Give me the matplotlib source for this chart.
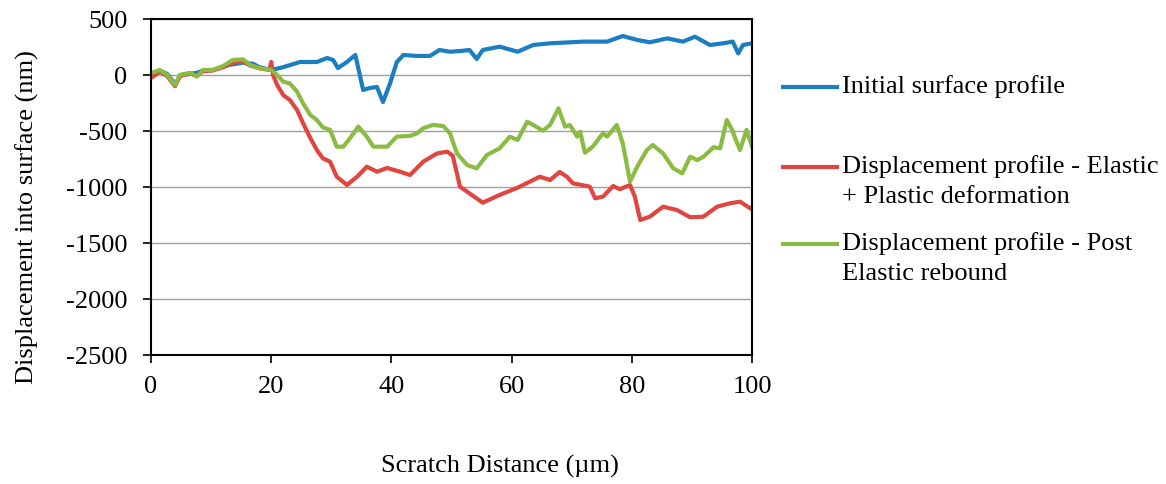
import matplotlib.pyplot as plt
from matplotlib.lines import Line2D

plt.rcParams['font.family'] = ['Liberation Serif', 'DejaVu Serif']
plt.rcParams['axes.unicode_minus'] = False

# Initial surface profile
x_init = [0, 1.5, 2.7, 4, 5, 7.7, 8.7, 10.3, 13, 15.3, 17, 18, 20, 22, 24.8, 27.6, 29.3, 30.3,
          31.1, 32.6, 34, 35.3, 36.4, 37.6, 38.6, 39.8, 40.9, 42, 44.3, 46.4, 48, 49.75, 51.4,
          53, 54.2, 55.2, 58, 61, 63.6, 66.4, 71.9, 75.9, 78.5, 80.9, 83, 85.9, 88.5, 90.5,
          93, 95.2, 96.8, 97.7, 98.5, 100]
y_init = [0, 36, 10, -80, 0, 20, 40, 45, 90, 110, 100, 70, 45, 70, 116, 116, 152, 134, 62, 116,
          179, -134, -116, -107, -241, -71, 116, 179, 170, 170, 223, 208, 214, 223, 143, 223,
          253, 208, 268, 283, 298, 298, 348, 313, 292, 327, 298, 342, 268, 283, 298, 193, 268, 283]

# Elastic + plastic
x_ep = [0, 1.5, 2.7, 4, 4.8, 6.5, 7.6, 8.7, 10.3, 12, 13.6, 15.3, 16.5, 18, 19.7, 20, 20.3, 21,
        22, 23.1, 24.3, 25.3, 26.5, 27.6, 28.6, 29.8, 30.9, 32.6, 34.3, 35.9, 37.6, 39.3, 41.4,
        43.1, 45.3, 47.6, 49.3, 50.2, 50.9, 51.4, 55.2, 58, 61, 64.7, 66.4, 68, 69.2, 70.2, 73,
        73.9, 75.2, 76.9, 78, 79.7, 80.5, 81.4, 83, 85.2, 87.5, 89.7, 91.9, 94.2, 96.3, 98, 100]
y_ep = [-27, 30, -10, -100, -10, 15, -10, 35, 40, 70, 110, 120, 85, 60, 45, 116, 0, -90, -179,
        -223, -312, -430, -562, -670, -744, -774, -908, -982, -908, -819, -863, -830, -863, -893,
        -774, -700, -685, -720, -878, -997, -1140, -1071, -1006, -908, -938, -866, -908, -967,
        -997, -1101, -1086, -991, -1020, -982, -1086, -1295, -1265, -1176, -1205, -1270, -1265,
        -1176, -1146, -1131, -1200]

# Post elastic rebound
x_pe = [0, 1.5, 2.7, 4, 4.8, 6.5, 7.6, 8.7, 10.3, 12, 13.6, 15.3, 16.5, 18, 20, 21, 22, 23.1,
        24.3, 25.3, 26.5, 27.6, 28.6, 29.8, 30.9, 32, 33.1, 34.5, 35.9, 37, 39.3, 40.9, 43.1,
        44.3, 45.3, 46.9, 48.6, 49.75, 50.9, 52.6, 54.2, 55.9, 58, 59.7, 61, 62.6, 63.6, 65.2,
        66.4, 67.8, 68.9, 69.7, 70.9, 71.4, 72.2, 73.5, 75.2, 75.9, 77.5, 78.5, 79.7, 80.9,
        82.5, 83.5, 85.2, 86.9, 88.4, 89.7, 90.9, 91.9, 93.6, 94.7, 95.8, 96.7, 97.2, 98, 99.1, 100]
y_pe = [18, 45, 0, -90, 0, 20, -15, 45, 45, 80, 134, 140, 90, 62, 45, 0, -60, -75, -149, -253,
        -357, -402, -467, -490, -640, -640, -565, -461, -550, -640, -640, -550, -544, -520, -475,
        -446, -455, -520, -700, -804, -833, -714, -655, -551, -580, -417, -446, -497, -446, -298,
        -461, -446, -550, -506, -694, -640, -520, -550, -446, -610, -952, -819, -670, -625, -700,
        -833, -878, -730, -760, -730, -645, -655, -402, -490, -565, -670, -490, -640]

labels = ['Initial surface profile',
          'Displacement profile - Elastic\n+ Plastic deformation',
          'Displacement profile - Post\nElastic rebound']
colors = ['#1b7dc2', '#e0463f', '#8bbb42']

W, H = 1166, 484
fig = plt.figure(figsize=(11.66, 4.84), dpi=100)
ax = fig.add_axes([151 / W, 1 - 355 / H, 601 / W, 336 / H])

ax.plot(x_init, y_init, color=colors[0], lw=3)
ax.plot(x_ep, y_ep, color=colors[1], lw=3)
ax.plot(x_pe, y_pe, color=colors[2], lw=3)

ax.set_xlim(0, 100)
ax.set_ylim(-2500, 500)
ax.set_xticks(range(0, 101, 20))
ax.set_yticks(range(-2500, 501, 500))
ax.yaxis.grid(True, color='#a0a0a0', lw=1)
ax.set_axisbelow(True)
for s in ax.spines.values():
    s.set_linewidth(1.5)
ax.tick_params(direction='out', length=6, width=1.2, labelsize=19)
ax.tick_params(axis='y', pad=11)
ax.tick_params(axis='x', pad=9)

fig.text(27 / W, 1 - 217 / H, 'Displacement into surface (nm)', fontsize=19,
         rotation=90, ha='center', va='center')
fig.text(500 / W, 1 - 466 / H, 'Scratch Distance (µm)', fontsize=19,
         ha='center', va='center')

# legend drawn by hand so handles sit on the first text line
leg_y = [87, 167, 244]
for c, lab, yy in zip(colors, labels, leg_y):
    yf = 1 - yy / H
    fig.add_artist(Line2D([783 / W, 837 / W], [yf, yf], color=c, lw=3,
                          transform=fig.transFigure))
    for i, line in enumerate(lab.split('\n')):
        fig.text(842 / W, 1 - (yy + 30 * i) / H, line, fontsize=19,
                 ha='left', va='center')

fig.savefig('out.png', dpi=100)
